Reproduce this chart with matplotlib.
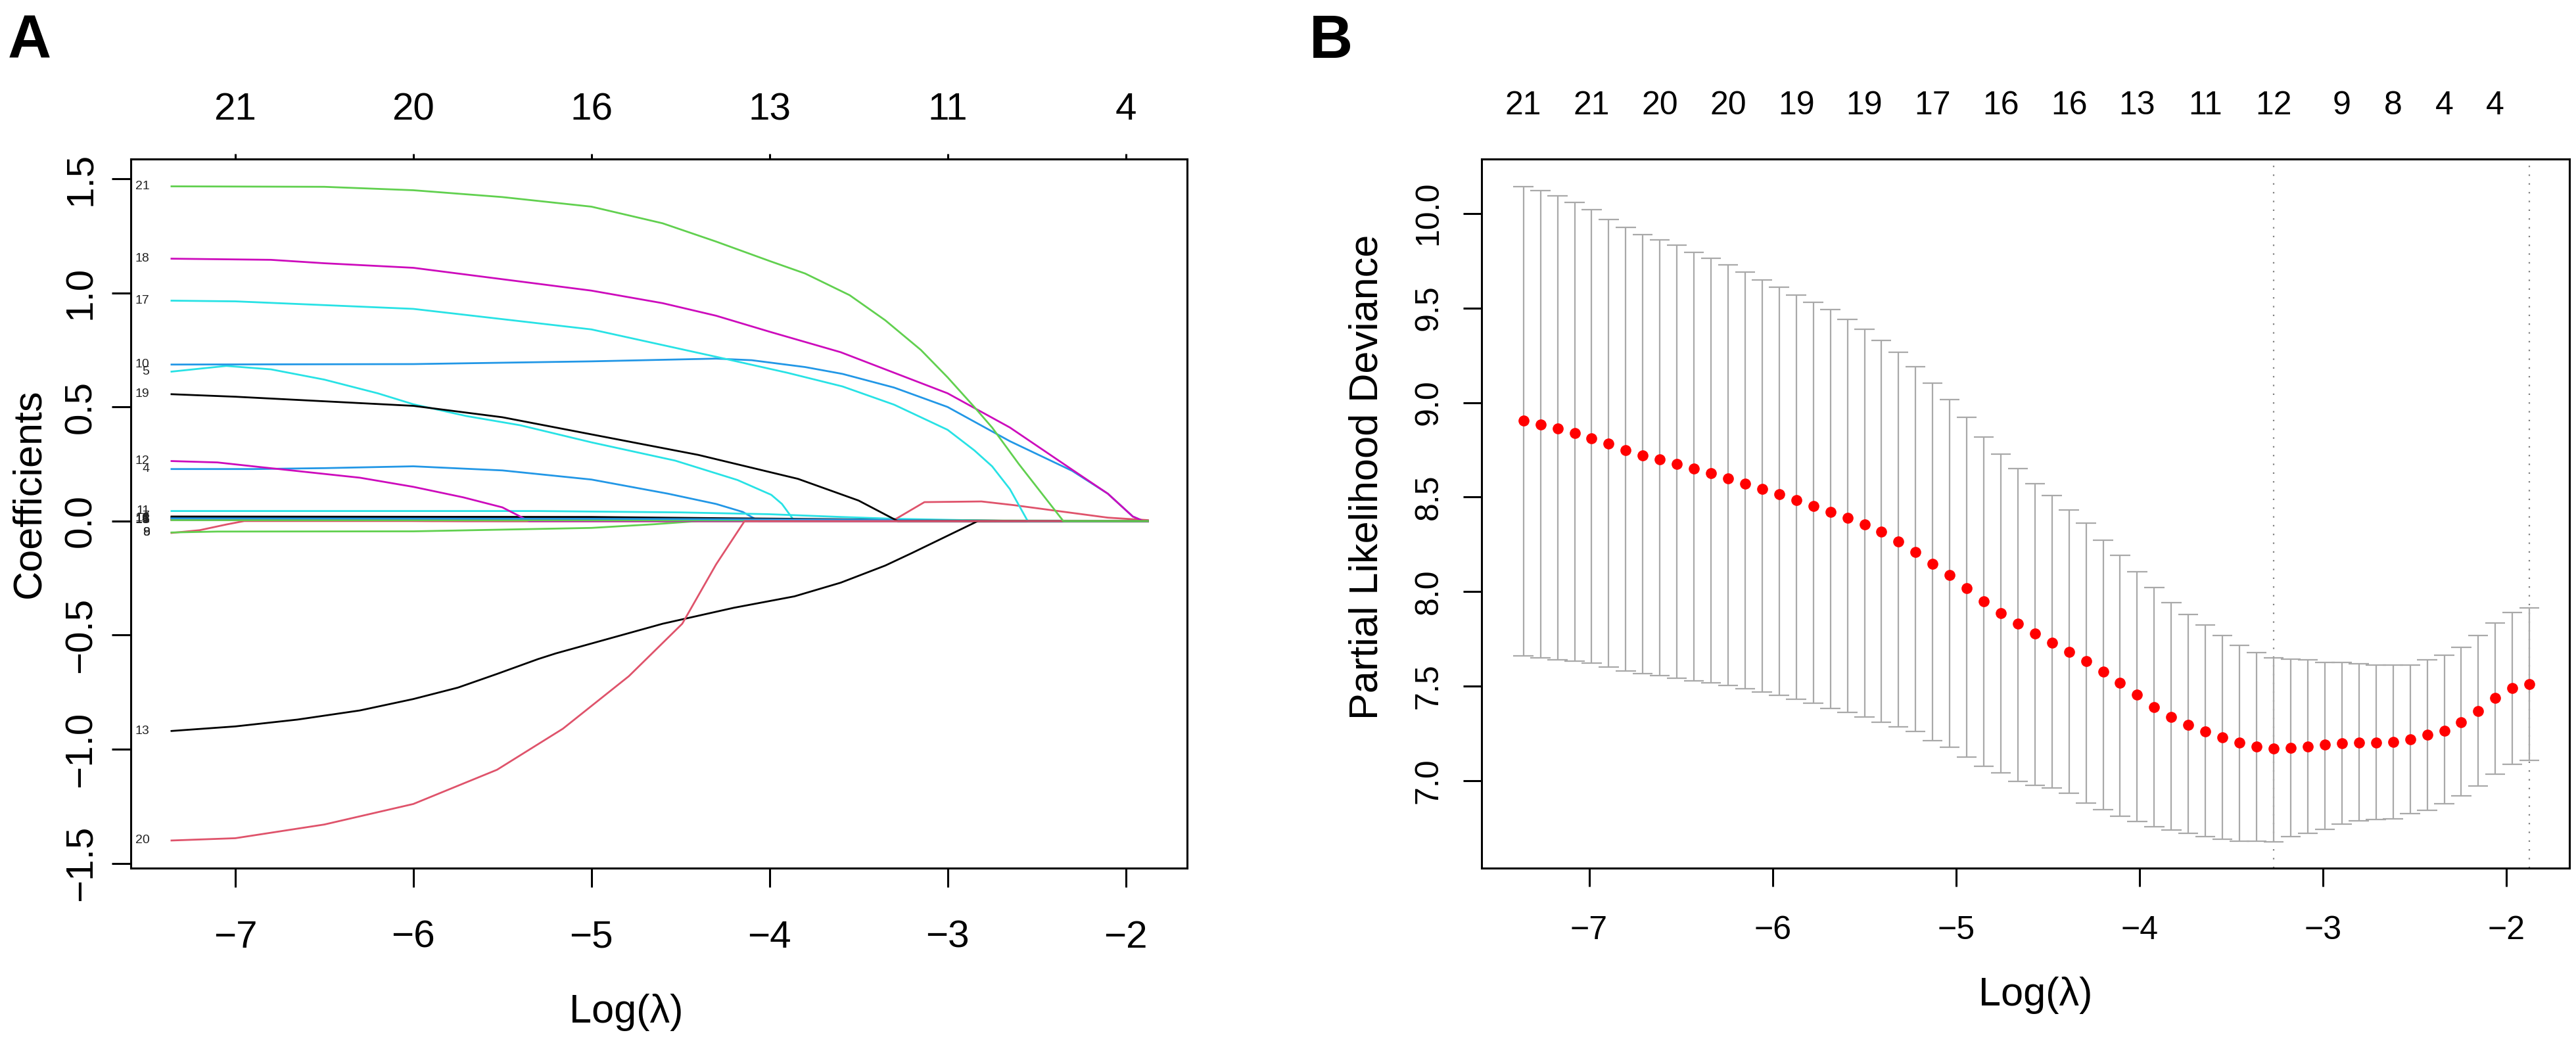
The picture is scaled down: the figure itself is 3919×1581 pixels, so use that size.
import matplotlib
matplotlib.use("Agg")
from matplotlib import pyplot as plt

plt.rcParams['font.family'] = ['Liberation Sans', 'DejaVu Sans']

# ---- panel A: lasso coefficient paths, (log lambda, coefficient) knots per variable
v01 = [(-7.358, 0.016), (-6.0, 0.015), (-5.0, 0.012), (-4.0, 0.008), (-3.3, 0.004), (-2.9, 0.0), (-1.875, 0.0)]
v02 = [(-7.358, 0.006), (-6.5, 0.004), (-5.9, 0.0), (-1.875, 0.0)]
v03 = [(-7.358, 0.010), (-6.5, 0.008), (-5.5, 0.0), (-1.875, 0.0)]
v04 = [(-7.358, 0.228), (-6.9, 0.228), (-6.5, 0.232), (-6.0, 0.240), (-5.5, 0.222), (-5.0, 0.182),
       (-4.57, 0.120), (-4.3, 0.075), (-4.15, 0.040), (-4.06, 0.0), (-1.875, 0.0)]
v05 = [(-7.358, 0.655), (-7.05, 0.680), (-6.8, 0.665), (-6.5, 0.620), (-6.2, 0.560), (-6.0, 0.512),
       (-5.7, 0.460), (-5.4, 0.420), (-5.0, 0.345), (-4.53, 0.265), (-4.18, 0.180), (-3.99, 0.115),
       (-3.93, 0.075), (-3.86, 0.0), (-1.875, 0.0)]
v06 = [(-7.358, 0.005), (-6.3, 0.003), (-5.7, 0.0), (-1.875, 0.0)]
v07 = [(-7.358, 0.020), (-5.0, 0.018), (-4.2, 0.012), (-3.3, 0.006), (-2.5, 0.0), (-1.875, 0.0)]
v08 = [(-7.358, -0.052), (-7.2, -0.040), (-7.05, -0.015), (-6.95, 0.0), (-1.875, 0.0)]
v09 = [(-7.358, -0.050), (-7.1, -0.046), (-6.0, -0.045), (-5.0, -0.030), (-4.65, -0.014), (-4.4, 0.0), (-1.875, 0.0)]
v10 = [(-7.358, 0.686), (-6.0, 0.688), (-5.0, 0.700), (-4.3, 0.712), (-4.1, 0.705), (-3.8, 0.675),
       (-3.59, 0.645), (-3.3, 0.585), (-3.0, 0.500), (-2.65, 0.350), (-2.3, 0.220), (-2.1, 0.120),
       (-1.96, 0.020), (-1.9, 0.0), (-1.875, 0.0)]
v11 = [(-7.358, 0.044), (-5.3, 0.044), (-4.5, 0.038), (-4.0, 0.030), (-3.6, 0.018), (-3.3, 0.010),
       (-2.9, 0.004), (-2.6, 0.0), (-1.875, 0.0)]
v12 = [(-7.358, 0.263), (-7.1, 0.257), (-6.9, 0.240), (-6.6, 0.215), (-6.3, 0.190), (-6.0, 0.150),
       (-5.72, 0.104), (-5.5, 0.060), (-5.35, 0.0), (-1.875, 0.0)]
v13 = [(-7.358, -0.920), (-7.0, -0.900), (-6.65, -0.870), (-6.3, -0.830), (-6.0, -0.780), (-5.75, -0.730),
       (-5.53, -0.670), (-5.3, -0.605), (-5.2, -0.580), (-4.6, -0.450), (-4.2, -0.380), (-3.86, -0.330),
       (-3.6, -0.270), (-3.35, -0.195), (-3.2, -0.140), (-2.83, 0.0), (-1.875, 0.0)]
v14 = [(-7.358, 0.008), (-5.3, 0.006), (-3.8, 0.004), (-3.3, 0.005), (-3.13, 0.083), (-2.81, 0.086),
       (-2.63, 0.070), (-2.38, 0.044), (-2.1, 0.015), (-1.875, 0.004)]
v15 = [(-7.358, 0.004), (-4.0, 0.003), (-2.5, 0.002), (-1.875, 0.001)]
v16 = [(-7.358, 0.012), (-5.0, 0.010), (-3.5, 0.006), (-2.7, 0.0), (-1.875, 0.0)]
v17 = [(-7.358, 0.966), (-7.0, 0.963), (-6.0, 0.930), (-5.0, 0.840), (-4.3, 0.720), (-3.9, 0.650),
       (-3.59, 0.590), (-3.3, 0.510), (-3.0, 0.400), (-2.85, 0.310), (-2.75, 0.240), (-2.65, 0.140),
       (-2.55, 0.0), (-1.875, 0.0)]
v18 = [(-7.358, 1.150), (-6.8, 1.145), (-6.5, 1.130), (-6.0, 1.110), (-5.5, 1.060), (-5.0, 1.010),
       (-4.6, 0.955), (-4.3, 0.900), (-4.0, 0.830), (-3.6, 0.740), (-3.3, 0.650), (-3.0, 0.560),
       (-2.65, 0.410), (-2.3, 0.225), (-2.1, 0.120), (-1.96, 0.020), (-1.9, 0.0), (-1.875, 0.0)]
v19 = [(-7.358, 0.556), (-7.0, 0.545), (-6.5, 0.525), (-6.0, 0.505), (-5.5, 0.455), (-5.0, 0.380),
       (-4.4, 0.290), (-3.84, 0.185), (-3.5, 0.090), (-3.28, 0.0), (-1.875, 0.0)]
v20 = [(-7.358, -1.400), (-7.0, -1.390), (-6.5, -1.330), (-6.0, -1.240), (-5.53, -1.090), (-5.16, -0.910),
       (-4.79, -0.680), (-4.49, -0.450), (-4.3, -0.190), (-4.14, 0.0), (-1.875, 0.0)]
v21 = [(-7.358, 1.467), (-6.5, 1.465), (-6.0, 1.450), (-5.5, 1.420), (-5.0, 1.378), (-4.6, 1.305),
       (-4.3, 1.225), (-4.0, 1.140), (-3.8, 1.085), (-3.55, 0.990), (-3.35, 0.880), (-3.15, 0.750),
       (-3.0, 0.630), (-2.85, 0.500), (-2.75, 0.410), (-2.6, 0.250), (-2.5, 0.150), (-2.35, 0.0),
       (-1.875, 0.0)]
paths = [v01, v02, v03, v04, v05, v06, v07, v08, v09, v10, v11,
         v12, v13, v14, v15, v16, v17, v18, v19, v20, v21]

a_xticks = [-7, -6, -5, -4, -3, -2]
a_yticks = [-1.5, -1.0, -0.5, 0.0, 0.5, 1.0, 1.5]
a_top_labels = ['21', '20', '16', '13', '11', '4']

# R 4.x palette, matplot cycles col = 1:6
r_palette = ['#000000', '#DF536B', '#61D04F', '#2297E6', '#28E2E5', '#CD0BBC']

# ---- panel B: cross-validation curve
log_lambda = [-7.358, -7.265, -7.172, -7.079, -6.986, -6.893, -6.800, -6.708, -6.615, -6.522,
              -6.429, -6.336, -6.243, -6.150, -6.057, -5.964, -5.871, -5.778, -5.685, -5.592,
              -5.499, -5.407, -5.314, -5.221, -5.128, -5.035, -4.942, -4.849, -4.756, -4.663,
              -4.570, -4.477, -4.384, -4.291, -4.198, -4.106, -4.013, -3.920, -3.827, -3.734,
              -3.641, -3.548, -3.455, -3.362, -3.269, -3.176, -3.083, -2.990, -2.897, -2.804,
              -2.711, -2.618, -2.525, -2.432, -2.339, -2.246, -2.154, -2.061, -1.968, -1.875]
cv_mean = [8.904, 8.883, 8.862, 8.838, 8.810, 8.782, 8.747, 8.719, 8.701, 8.677,
           8.652, 8.628, 8.600, 8.572, 8.544, 8.516, 8.484, 8.453, 8.421, 8.390,
           8.355, 8.316, 8.267, 8.211, 8.148, 8.089, 8.019, 7.949, 7.886, 7.830,
           7.781, 7.732, 7.683, 7.634, 7.578, 7.518, 7.455, 7.389, 7.340, 7.298,
           7.263, 7.232, 7.203, 7.183, 7.171, 7.175, 7.183, 7.192, 7.201, 7.203,
           7.204, 7.206, 7.221, 7.243, 7.267, 7.310, 7.371, 7.439, 7.491, 7.513]
cv_up = [10.140, 10.119, 10.091, 10.056, 10.018, 9.968, 9.926, 9.888, 9.860, 9.832,
         9.793, 9.762, 9.727, 9.688, 9.646, 9.608, 9.569, 9.531, 9.492, 9.440,
         9.387, 9.328, 9.265, 9.191, 9.104, 9.016, 8.922, 8.817, 8.729, 8.652,
         8.572, 8.509, 8.432, 8.362, 8.274, 8.194, 8.106, 8.022, 7.942, 7.879,
         7.826, 7.770, 7.718, 7.678, 7.652, 7.643, 7.641, 7.626, 7.626, 7.620,
         7.614, 7.614, 7.614, 7.641, 7.666, 7.705, 7.770, 7.836, 7.889, 7.915]
cv_lo = [7.662, 7.651, 7.641, 7.634, 7.623, 7.602, 7.581, 7.567, 7.557, 7.543,
         7.529, 7.518, 7.504, 7.487, 7.469, 7.452, 7.431, 7.410, 7.382, 7.361,
         7.340, 7.312, 7.287, 7.263, 7.214, 7.179, 7.126, 7.077, 7.042, 6.997,
         6.976, 6.962, 6.937, 6.885, 6.850, 6.815, 6.787, 6.759, 6.741, 6.724,
         6.706, 6.694, 6.683, 6.683, 6.680, 6.706, 6.723, 6.746, 6.773, 6.789,
         6.796, 6.801, 6.827, 6.845, 6.880, 6.920, 6.974, 7.036, 7.088, 7.109]
log_lambda_min = -3.269
log_lambda_1se = -1.875
b_top_idx = [0, 4, 8, 12, 16, 20, 24, 28, 32, 36, 40, 44, 48, 51, 54, 57]
b_top_labels = ['21', '21', '20', '20', '19', '19', '17', '16', '16', '13', '11', '12', '9', '8', '4', '4']
b_xticks = [-7, -6, -5, -4, -3, -2]
b_yticks = [7.0, 7.5, 8.0, 8.5, 9.0, 9.5, 10.0]

W, H = 3919, 1581
fig = plt.figure(figsize=(W / 100, H / 100), dpi=100)


def box(l, t, r, b):
    # pixel box -> figure fraction rect
    return [l / W, 1 - b / H, (r - l) / W, (b - t) / H]


def px(x, y):
    return x / W, 1 - y / H


def frame(ax):
    for s in ax.spines.values():
        s.set_linewidth(2.2)


# ---------------- A ----------------
axA = fig.add_axes(box(198.6, 241.9, 1806, 1320.6))
for i, p in enumerate(paths):
    xs = [q[0] for q in p]
    ys = [q[1] for q in p]
    axA.plot(xs, ys, color=r_palette[i % 6], lw=2.0, solid_joinstyle='round', zorder=2)
    axA.annotate(str(i + 1), xy=(xs[0], ys[0]), xytext=(-24, 0), textcoords='offset points',
                 ha='right', va='center', fontsize=14, color='#222222')
axA.set_xlim(-7.588, -1.655)
axA.set_ylim(-1.520, 1.587)
axA.set_xticks(a_xticks)
axA.set_yticks(a_yticks)
axA.tick_params(axis='x', length=20.9, width=2.2, pad=36, labelsize=42)
axA.tick_params(axis='y', length=20.9, width=2.2, pad=13.8, labelsize=42, labelrotation=90)
for lab in axA.get_yticklabels():
    lab.set_va('center')
frame(axA)
secA = axA.secondary_xaxis('top')
secA.set_xticks(a_xticks, labels=a_top_labels)
secA.tick_params(length=5.8, width=2.2, pad=28.4, labelsize=42)
secA.spines['top'].set_linewidth(2.2)

fig.text(*px(60, 751), 'Coefficients', rotation=90, rotation_mode='anchor',
         ha='center', va='baseline', fontsize=44)
fig.text(*px(953, 1556), 'Log(λ)', ha='center', va='baseline', fontsize=44)
fig.text(*px(12, 21), 'A', ha='left', va='top', fontsize=66, fontweight='bold')

# ---------------- B ----------------
axB = fig.add_axes(box(2254, 241.9, 3908.6, 1320.6))
cap = 0.01 * (log_lambda[-1] - log_lambda[0])
bar_left = [x - cap for x in log_lambda]
bar_right = [x + cap for x in log_lambda]
axB.vlines(log_lambda, cv_lo, cv_up, color='darkgrey', lw=1.6, zorder=2)
axB.hlines(cv_up, bar_left, bar_right, color='darkgrey', lw=1.6, zorder=2)
axB.hlines(cv_lo, bar_left, bar_right, color='darkgrey', lw=1.6, zorder=2)
axB.axvline(log_lambda_min, color='#808080', lw=1.6, ls=(0, (1, 5)), zorder=1)
axB.axvline(log_lambda_1se, color='#808080', lw=1.6, ls=(0, (1, 5)), zorder=1)
axB.plot(log_lambda, cv_mean, 'o', color='red', ms=12, mew=0, zorder=3)
axB.set_xlim(-7.586, -1.658)
axB.set_ylim(6.541, 10.287)
axB.set_xticks(b_xticks)
axB.set_yticks(b_yticks)
axB.tick_params(axis='x', length=20.2, width=2.2, pad=32, labelsize=36)
axB.tick_params(axis='y', length=20.2, width=2.2, pad=21.2, labelsize=36, labelrotation=90)
for lab in axB.get_yticklabels():
    lab.set_va('center')
frame(axB)
secB = axB.secondary_xaxis('top')
secB.set_xticks([log_lambda[i] for i in b_top_idx], labels=b_top_labels)
secB.tick_params(length=0, pad=41.7, labelsize=36)
secB.spines['top'].set_linewidth(2.2)

fig.text(*px(2095, 726), 'Partial Likelihood Deviance', rotation=90, rotation_mode='anchor',
         ha='center', va='baseline', fontsize=44)
fig.text(*px(3097, 1530), 'Log(λ)', ha='center', va='baseline', fontsize=44)
fig.text(*px(1992, 21), 'B', ha='left', va='top', fontsize=66, fontweight='bold')

fig.savefig('out.png', dpi=100)
